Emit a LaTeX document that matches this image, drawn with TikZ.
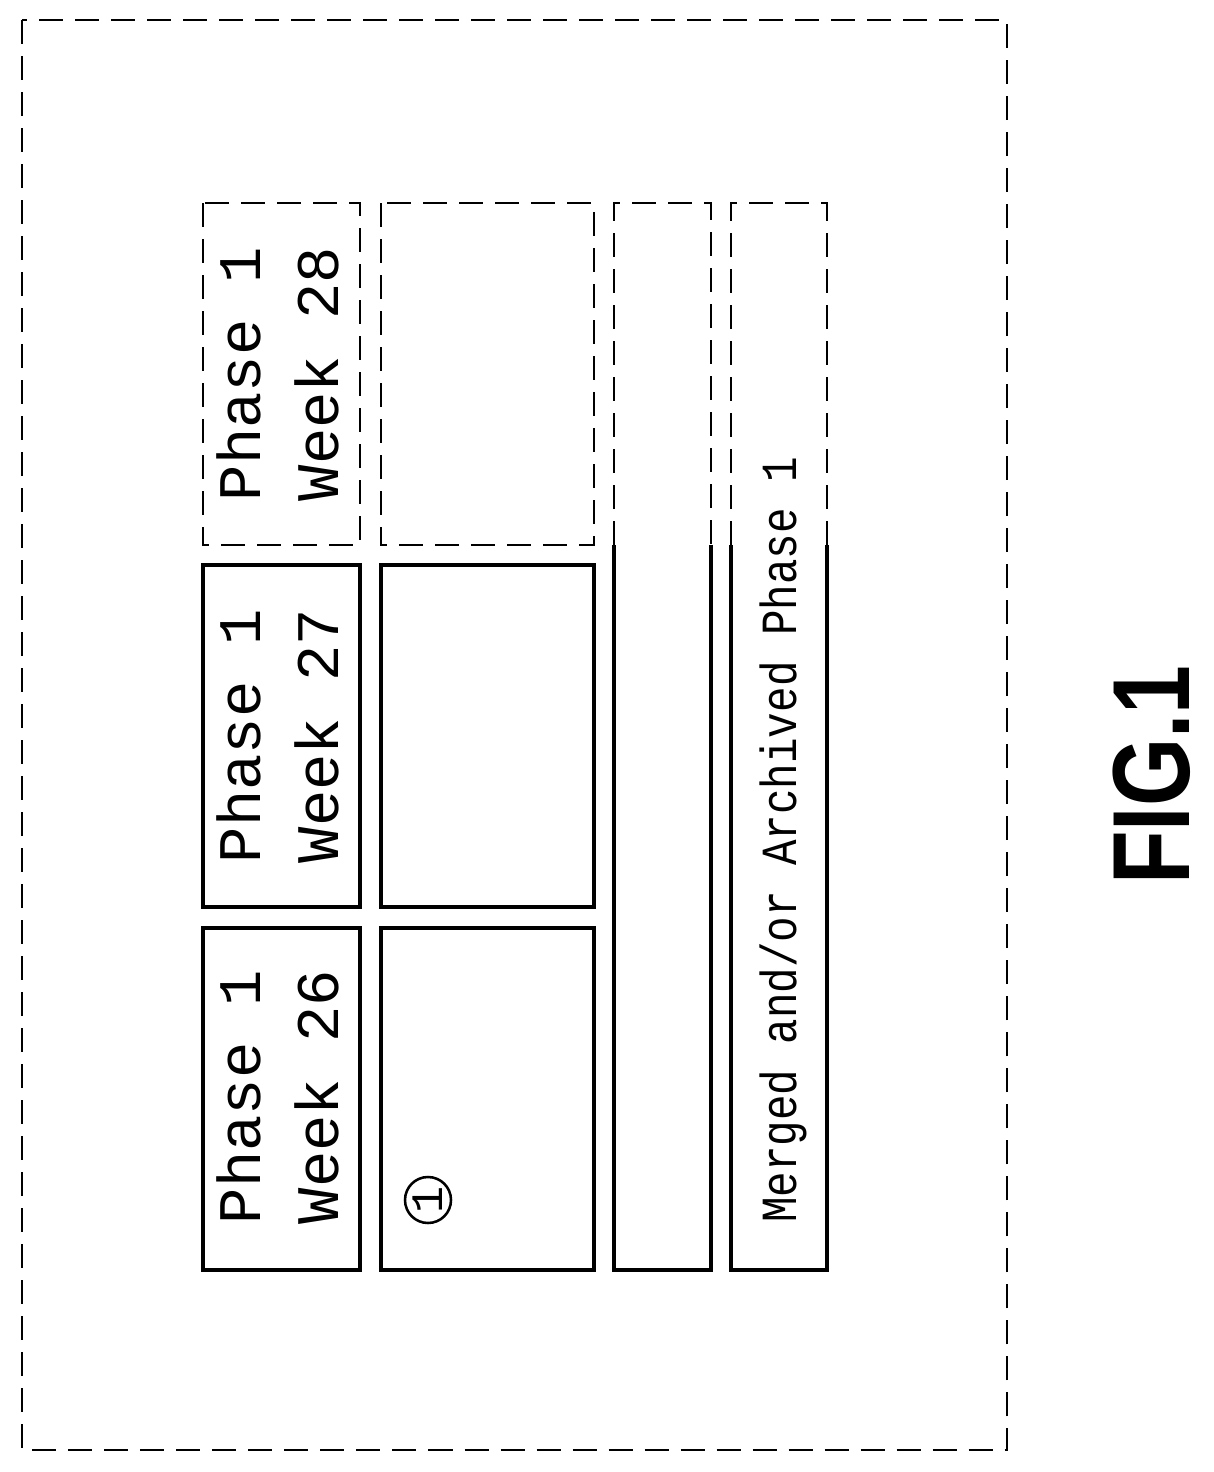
\documentclass[tikz,border=0pt]{standalone}
\usepackage{fontspec}
\setmainfont{Liberation Sans}
\newfontfamily\monofont{Liberation Mono}
\usetikzlibrary{positioning}

\tikzset{
    frame/.style = {line width=2pt, dash pattern=on 0.6cm off 0.3cm},
    solidbox/.style = {line width=2.2pt},
    label/.style = {rotate=90, font=\monofont\fontsize{43}{56}\selectfont, align=left}
}

\begin{document}
\begin{tikzpicture}[x=0.025cm, y=-0.025cm]
\useasboundingbox (0,0) rectangle (1214,1472);

% outer frame
\draw[frame] (22,20) rectangle (1007,1450);

% week boxes
\draw[solidbox] (203,928) rectangle (360,1270);
\draw[solidbox] (203,565) rectangle (360,907);
\draw[frame] (203,203) rectangle (360,545);
\draw[solidbox] (381,928) rectangle (594,1270);
\draw[solidbox] (381,565) rectangle (594,907);
\draw[frame] (381,203) rectangle (594,545);

% long bars
\draw[solidbox] (614,545) -- (614,1270) -- (711,1270) -- (711,545);
\draw[frame] (614,545) -- (614,203) -- (711,203) -- (711,545);
\draw[solidbox] (731,545) -- (731,1270) -- (827,1270) -- (827,545);
\draw[frame] (731,545) -- (731,203) -- (827,203) -- (827,545);

\node[label] (w26) at (278,1097) {Phase 1\\Week 26};
\node[label] (w27) at (278,736) {Phase 1\\Week 27};
\node[label] (w28) at (278,374) {Phase 1\\Week 28};

\node[draw, circle, line width=1.8pt, minimum size=1.15cm, inner sep=0pt, rotate=90,
      font=\monofont\fontsize{32}{34}\selectfont] (one) at (428,1200) {1};

\node[rotate=90, font=\monofont\fontsize{36}{40}\selectfont] (merged) at (783,840)
    {\scalebox{0.84}[1]{Merged and/or Archived Phase 1}};

\node[rotate=90, font=\bfseries\fontsize{78}{90}\selectfont, inner sep=0pt] (fig) at (1152,775)
    {\scalebox{0.8}[1]{FIG.1}};
\end{tikzpicture}
\end{document}
